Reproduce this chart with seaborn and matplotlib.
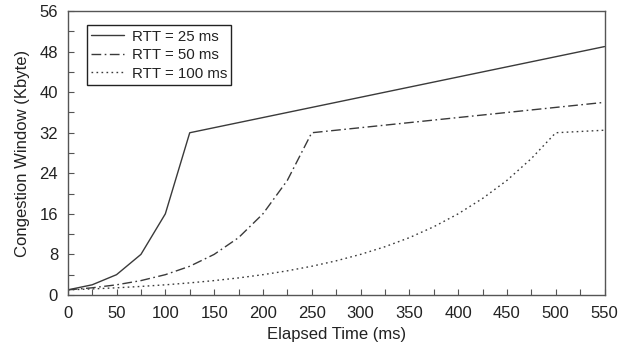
import matplotlib
matplotlib.use("Agg")
import matplotlib.pyplot as plt
from matplotlib.ticker import MultipleLocator
import numpy as np
import pandas as pd
import seaborn as sns

# Elapsed time (ms) and congestion window (Kbyte) for each round-trip time
time_25 = [0, 25, 50, 75, 100, 125, 550]
cwnd_25 = [1, 2, 4, 8, 16, 32, 49]

time_50 = [0, 25, 50, 75, 100, 125, 150, 175, 200, 225, 250, 550]
cwnd_50 = [1, 1.41, 2, 2.83, 4, 5.66, 8, 11.3, 16, 22.6, 32, 38]

time_100 = [0, 25, 50, 75, 100, 125, 150, 175, 200, 225, 250, 275, 300,
            325, 350, 375, 400, 425, 450, 475, 500, 550]
cwnd_100 = [1, 1.19, 1.41, 1.68, 2, 2.38, 2.83, 3.36, 4, 4.76, 5.66, 6.73, 8,
            9.51, 11.3, 13.45, 16, 19.03, 22.6, 26.9, 32, 32.5]

labels = ["RTT = 25 ms", "RTT = 50 ms", "RTT = 100 ms"]
x_ticks = [0, 50, 100, 150, 200, 250, 300, 350, 400, 450, 500, 550]
y_ticks = [0, 8, 16, 24, 32, 40, 48, 56]

sns.set_theme(style="white")
plt.rcParams["font.family"] = ["Liberation Sans", "DejaVu Sans"]

fig = plt.figure(figsize=(6.33, 3.47), dpi=100)
ax = fig.add_axes([0.107, 0.150, 0.848, 0.818])

line_color = "#3a3a3a"
series = [
    (time_25, cwnd_25, "-"),
    (time_50, cwnd_50, (0, (7, 2.5, 1.2, 2.5))),
    (time_100, cwnd_100, (0, (1.2, 2.4))),
]
for (t, w, ls), lab in zip(series, labels):
    df = pd.DataFrame({"t": t, "w": w})
    sns.lineplot(data=df, x="t", y="w", ax=ax, color=line_color,
                 linewidth=1.0, linestyle=ls, label=lab, sort=False)

ax.set_xlim(0, 550)
ax.set_ylim(0, 56)
ax.set_xticks(x_ticks)
ax.set_yticks(y_ticks)
ax.xaxis.set_minor_locator(MultipleLocator(25))
ax.yaxis.set_minor_locator(MultipleLocator(4))
ax.tick_params(axis="both", which="both", direction="in", colors="#555555",
               labelcolor="#222222", labelsize=12, bottom=True, left=True,
               top=False, right=False)
ax.tick_params(which="major", length=4, width=0.8)
ax.tick_params(which="minor", length=4, width=0.8)
ax.tick_params(axis="x", pad=8)
ax.tick_params(axis="y", pad=7)

for sp in ax.spines.values():
    sp.set_color("#555555")
    sp.set_linewidth(1.0)

ax.set_xlabel("Elapsed Time (ms)", fontsize=12, color="#222222", labelpad=4)
ax.set_ylabel("Congestion Window (Kbyte)", fontsize=12, color="#222222", labelpad=7)

leg = ax.legend(loc="upper left", bbox_to_anchor=(0.035, 0.951), frameon=True,
                fancybox=False, edgecolor="#222222", fontsize=10.8,
                handlelength=2.2, handletextpad=0.5, borderpad=0.3,
                labelspacing=0.3, framealpha=1, borderaxespad=0)
leg.get_frame().set_linewidth(1.0)
for txt in leg.get_texts():
    txt.set_color("#222222")

fig.savefig("out.png", dpi=100)
